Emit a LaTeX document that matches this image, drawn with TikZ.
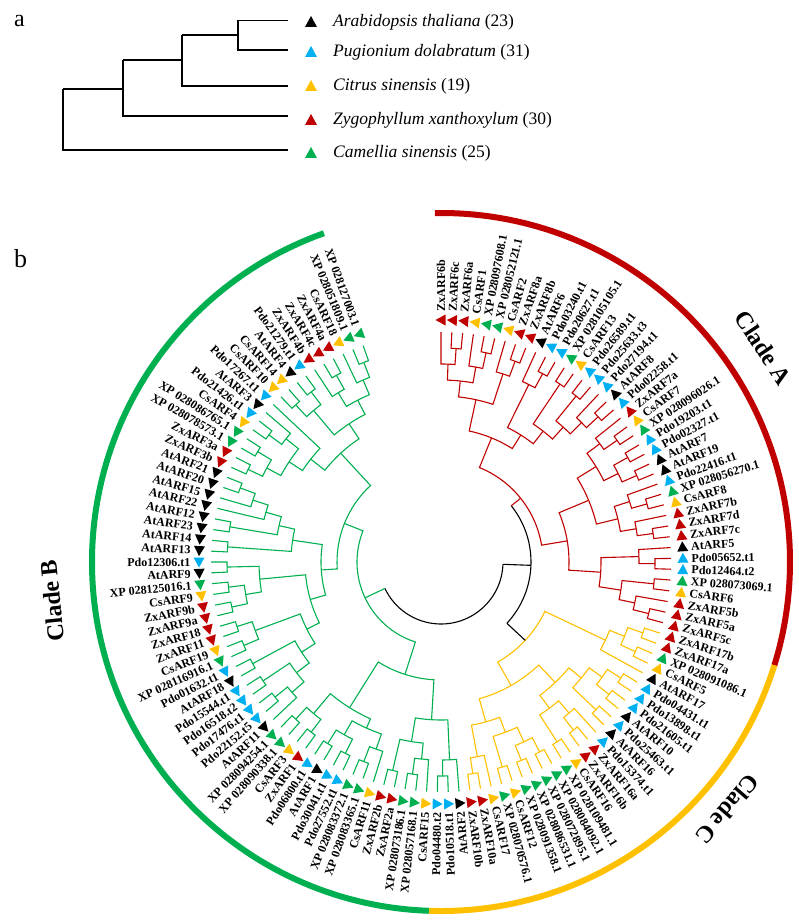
\documentclass[tikz,border=0pt]{standalone}
\usepackage{fontspec}
\setmainfont{Liberation Serif}
\definecolor{cR}{RGB}{192,0,0}
\definecolor{cY}{RGB}{255,192,0}
\definecolor{cB}{RGB}{0,176,240}
\definecolor{cG}{RGB}{0,176,80}
\definecolor{cK}{RGB}{0,0,0}
\def\stp{2.7}
\def\tipr{230}
% internal node: name, radius, child 1, child 2 (children: leaf numbers or node names)
\newcommand\N[4]{%
 \edef\pA{\csname pos@#3\endcsname}\edef\rA{\csname rad@#3\endcsname}%
 \edef\pB{\csname pos@#4\endcsname}\edef\rB{\csname rad@#4\endcsname}%
 \pgfmathsetmacro\aA{90-(\pA-1)*\stp}%
 \pgfmathsetmacro\aB{90-(\pB-1)*\stp}%
 \draw (\aA:\rA) -- (\aA:#2) arc[start angle=\aA, end angle=\aB, radius=#2] -- (\aB:\rB);%
 \pgfmathsetmacro\pM{(\pA+\pB)/2}%
 \expandafter\xdef\csname pos@#1\endcsname{\pM}%
 \expandafter\xdef\csname rad@#1\endcsname{#2}}
% node whose arc is black but whose two stems take the given colours
\newcommand\Nc[6]{%
 \edef\pA{\csname pos@#3\endcsname}\edef\rA{\csname rad@#3\endcsname}%
 \edef\pB{\csname pos@#5\endcsname}\edef\rB{\csname rad@#5\endcsname}%
 \pgfmathsetmacro\aA{90-(\pA-1)*\stp}%
 \pgfmathsetmacro\aB{90-(\pB-1)*\stp}%
 \draw[black] (\aA:#2) arc[start angle=\aA, end angle=\aB, radius=#2];%
 \draw[#4] (\aA:\rA) -- (\aA:#2);%
 \draw[#6] (\aB:\rB) -- (\aB:#2);%
 \pgfmathsetmacro\pM{(\pA+\pB)/2}%
 \expandafter\xdef\csname pos@#1\endcsname{\pM}%
 \expandafter\xdef\csname rad@#1\endcsname{#2}}
\newcommand\leaf[3]{%
 \pgfmathsetmacro\th{90-(#1-1)*\stp}
 \begin{scope}[rotate=\th]
  \fill[#2] (242,5.5) -- (236.5,-4.5) -- (247.5,-4.5) -- cycle;
 \end{scope}
 \ifnum#1<66
  \node[lbl, rotate=\th, anchor=west] (L#1) at (\th:250.5) {#3};
 \else
  \node[lbl, rotate=\th+180, anchor=east] (L#1) at (\th:250.5) {#3};
 \fi}
\tikzset{lbl/.style={inner sep=0pt, font=\fontsize{12}{14}\selectfont\bfseries},
 legtext/.style={anchor=west, inner sep=0pt, font=\fontsize{17.5}{20}\selectfont},
 cladetext/.style={inner sep=0pt, font=\fontsize{24}{26}\selectfont\bfseries},
 tree/.style={line width=1.1pt, line join=miter},
 cladearc/.style={line width=6pt}}
\begin{document}
\begin{tikzpicture}[x=1pt,y=1pt]
\useasboundingbox (0,0) rectangle (798,-920);
\foreach \k in {1,...,127}{%
 \expandafter\xdef\csname pos@\k\endcsname{\k}%
 \expandafter\xdef\csname rad@\k\endcsname{\tipr}}
% panel labels
\node[font=\fontsize{24}{26}\selectfont, anchor=base west, inner sep=0] (la) at (14,-27) {a};
\node[font=\fontsize{26}{28}\selectfont, anchor=base west, inner sep=0] (lb) at (14,-267) {b};
% legend tree
\begin{scope}[line width=1.4pt]
\draw (63,-89) -- (63,-150) -- (288,-150);
\draw (63,-89) -- (123,-89);
\draw (123,-60) -- (123,-116) -- (288,-116);
\draw (123,-60) -- (182,-60);
\draw (182,-35) -- (182,-86) -- (288,-86);
\draw (182,-35) -- (238,-35);
\draw (288,-20.5) -- (238,-20.5) -- (238,-50) -- (288,-50);
\end{scope}
\foreach \yy/\cc/\nm/\nn in {-22/cK/Arabidopsis thaliana/23, -52/cB/Pugionium dolabratum/31, -86/cY/Citrus sinensis/19, -120/cR/Zygophyllum xanthoxylum/30, -153/cG/Camellia sinensis/25}{
 \fill[\cc] (311,\yy+6) -- (305,\yy-5) -- (317,\yy-5) -- cycle;
 \node[legtext] at (333,\yy) {\textit{\nm} (\nn)};
}
% circular tree
\begin{scope}[shift={(441,-562)}]
\draw[cladearc, cR] (91:349) arc[start angle=91, end angle=-17.2, radius=349];
\draw[cladearc, cY] (-17.2:349) arc[start angle=-17.2, end angle=-92, radius=349];
\draw[cladearc, cG] (-92:349) arc[start angle=-92, end angle=-250.4, radius=349];
\node[cladetext, rotate=33.6-90] (ca) at (33.6:387) {Clade A};
\node[cladetext, rotate=185.7-90] (cb) at (185.7:391) {Clade B};
\node[cladetext, rotate=-40.8-90] (cc) at (-40.8:379) {Clade C};
\begin{scope}[tree, cR]
\N{a1}{214}{2}{3}
\N{a2}{198}{1}{a1}
\N{a3}{214}{5}{6}
\N{a4}{198}{4}{a3}
\N{a5}{182}{a2}{a4}
\N{a6}{214}{8}{9}
\N{a7}{198}{7}{a6}
\N{a8}{166}{a5}{a7}
\N{a9}{214}{11}{12}
\N{a10}{198}{10}{a9}
\N{a11}{214}{13}{14}
\N{a12}{214}{15}{16}
\N{a13}{214}{18}{19}
\N{a14}{198}{17}{a13}
\N{a15}{182}{a12}{a14}
\N{a16}{166}{a11}{a15}
\N{a17}{150}{a10}{a16}
\N{a18}{134}{a8}{a17}
\N{b1}{214}{21}{22}
\N{b2}{198}{20}{b1}
\N{b3}{214}{23}{24}
\N{b4}{214}{25}{26}
\N{b5}{198}{b3}{b4}
\N{b6}{182}{b2}{b5}
\N{b7}{214}{28}{29}
\N{b8}{198}{27}{b7}
\N{b9}{214}{31}{32}
\N{b10}{198}{30}{b9}
\N{b11}{182}{b8}{b10}
\N{b12}{160}{b6}{b11}
\N{c1}{214}{34}{35}
\N{c2}{198}{33}{c1}
\N{c3}{214}{36}{37}
\N{c4}{214}{39}{40}
\N{c5}{198}{38}{c4}
\N{c6}{182}{c3}{c5}
\N{c7}{160}{c2}{c6}
\N{A2}{128}{b12}{c7}
\N{A}{102}{a18}{A2}
\end{scope}
\begin{scope}[tree, cY]
\N{d1}{214}{41}{42}
\N{d2}{214}{43}{44}
\N{d3}{198}{d1}{d2}
\N{d4}{182}{d3}{45}
\N{e1}{214}{46}{47}
\N{e2}{214}{48}{49}
\N{e3}{198}{e1}{e2}
\N{e4}{214}{50}{51}
\N{e5}{182}{e3}{e4}
\N{e6}{214}{53}{54}
\N{e7}{198}{52}{e6}
\N{e8}{214}{55}{56}
\N{e9}{182}{e7}{e8}
\N{e10}{166}{e5}{e9}
\N{f1}{214}{57}{58}
\N{f2}{214}{59}{60}
\N{f3}{198}{f1}{f2}
\N{f4}{214}{61}{62}
\N{f5}{182}{f3}{f4}
\N{f6}{214}{64}{65}
\N{f7}{198}{63}{f6}
\N{f8}{166}{f5}{f7}
\N{C1}{142}{e10}{f8}
\N{C}{115}{d4}{C1}
\end{scope}
\begin{scope}[tree, cG]
\N{g1}{214}{67}{68}
\N{g2}{198}{66}{g1}
\N{g3}{214}{70}{71}
\N{g4}{198}{69}{g3}
\N{g5}{214}{72}{73}
\N{g6}{182}{g4}{g5}
\N{g7}{158}{g2}{g6}
\N{h1}{214}{75}{76}
\N{h2}{198}{74}{h1}
\N{h3}{214}{77}{78}
\N{h4}{214}{79}{80}
\N{h5}{198}{h3}{h4}
\N{h6}{182}{h2}{h5}
\N{h7}{214}{81}{82}
\N{h8}{214}{83}{84}
\N{h9}{198}{h7}{h8}
\N{h10}{172}{h6}{h9}
\N{B1}{118}{g7}{h10}
\N{i1}{214}{86}{87}
\N{i2}{198}{85}{i1}
\N{i3}{214}{88}{89}
\N{i4}{182}{i2}{i3}
\N{i5}{214}{90}{91}
\N{i6}{166}{i4}{i5}
\N{i7}{214}{92}{93}
\N{i8}{214}{94}{95}
\N{i9}{198}{i7}{i8}
\N{i10}{150}{i6}{i9}
\N{j1}{214}{96}{97}
\N{j2}{214}{98}{99}
\N{j3}{198}{j1}{j2}
\N{j4}{214}{100}{101}
\N{j5}{182}{j3}{j4}
\N{i11}{136}{i10}{j5}
\N{k1}{214}{108}{109}
\N{k2}{198}{107}{k1}
\N{k3}{182}{106}{k2}
\N{k4}{214}{104}{105}
\N{k5}{166}{k4}{k3}
\N{k6}{214}{102}{103}
\N{k7}{150}{k6}{k5}
\N{B2}{120}{i11}{k7}
\N{l1}{214}{110}{111}
\N{l2}{214}{112}{113}
\N{l3}{198}{l1}{l2}
\N{l4}{214}{114}{115}
\N{l5}{198}{l4}{116}
\N{l6}{182}{l3}{l5}
\N{l7}{166}{l6}{117}
\N{m1}{214}{118}{119}
\N{m2}{214}{120}{121}
\N{m3}{198}{m1}{m2}
\N{m4}{214}{123}{124}
\N{m5}{198}{122}{m4}
\N{m6}{214}{126}{127}
\N{m7}{198}{125}{m6}
\N{m8}{182}{m5}{m7}
\N{m9}{166}{m3}{m8}
\N{B3}{148}{l7}{m9}
\N{B4}{104}{B2}{B3}
\N{B}{84}{B1}{B4}
\end{scope}
\begin{scope}[tree]
\Nc{AC}{90}{A}{cR}{C}{black}
\Nc{R}{62}{AC}{black}{B}{cG}
\end{scope}
\leaf{1}{cR}{ZxARF6b}
\leaf{2}{cR}{ZxARF6c}
\leaf{3}{cR}{ZxARF6a}
\leaf{4}{cY}{CsARF1}
\leaf{5}{cG}{XP 028097608.1}
\leaf{6}{cG}{XP 028052121.1}
\leaf{7}{cY}{CsARF2}
\leaf{8}{cR}{ZxARF8a}
\leaf{9}{cR}{ZxARF8b}
\leaf{10}{cK}{AtARF6}
\leaf{11}{cB}{Pdo03240.t1}
\leaf{12}{cB}{Pdo20627.t1}
\leaf{13}{cG}{XP 028105105.1}
\leaf{14}{cY}{CsARF13}
\leaf{15}{cB}{Pdo26589.t1}
\leaf{16}{cB}{Pdo25633.t3}
\leaf{17}{cB}{Pdo27194.t1}
\leaf{18}{cK}{AtARF8}
\leaf{19}{cB}{Pdo02258.t1}
\leaf{20}{cR}{ZxARF7a}
\leaf{21}{cY}{CsARF7}
\leaf{22}{cG}{XP 028096026.1}
\leaf{23}{cB}{Pdo19203.t1}
\leaf{24}{cB}{Pdo02327.t1}
\leaf{25}{cK}{AtARF7}
\leaf{26}{cK}{AtARF19}
\leaf{27}{cB}{Pdo22416.t1}
\leaf{28}{cG}{XP 028056270.1}
\leaf{29}{cY}{CsARF8}
\leaf{30}{cR}{ZxARF7b}
\leaf{31}{cR}{ZxARF7d}
\leaf{32}{cR}{ZxARF7c}
\leaf{33}{cK}{AtARF5}
\leaf{34}{cB}{Pdo05652.t1}
\leaf{35}{cB}{Pdo12464.t2}
\leaf{36}{cG}{XP 028073069.1}
\leaf{37}{cY}{CsARF6}
\leaf{38}{cR}{ZxARF5b}
\leaf{39}{cR}{ZxARF5a}
\leaf{40}{cR}{ZxARF5c}
\leaf{41}{cR}{ZxARF17b}
\leaf{42}{cR}{ZxARF17a}
\leaf{43}{cG}{XP 028091086.1}
\leaf{44}{cY}{CsARF5}
\leaf{45}{cK}{AtARF17}
\leaf{46}{cB}{Pdo04431.t1}
\leaf{47}{cB}{Pdo13898.t1}
\leaf{48}{cB}{Pdo21605.t1}
\leaf{49}{cK}{AtARF10}
\leaf{50}{cB}{Pdo25463.t1}
\leaf{51}{cK}{AtARF16}
\leaf{52}{cB}{Pdo15374.t1}
\leaf{53}{cR}{ZxARF16a}
\leaf{54}{cR}{ZxARF16b}
\leaf{55}{cY}{CsARF16}
\leaf{56}{cG}{XP 028109481.1}
\leaf{57}{cG}{XP 028084092.1}
\leaf{58}{cG}{XP 028072895.1}
\leaf{59}{cG}{XP 028086531.1}
\leaf{60}{cG}{XP 028091358.1}
\leaf{61}{cY}{CsARF12}
\leaf{62}{cG}{XP 028070576.1}
\leaf{63}{cY}{CsARF17}
\leaf{64}{cR}{ZxARF10a}
\leaf{65}{cR}{ZxARF10b}
\leaf{66}{cK}{AtARF2}
\leaf{67}{cB}{Pdo10518.t1}
\leaf{68}{cB}{Pdo04480.t2}
\leaf{69}{cY}{CsARF15}
\leaf{70}{cG}{XP 028057168.1}
\leaf{71}{cG}{XP 028073186.1}
\leaf{72}{cR}{ZxARF2a}
\leaf{73}{cR}{ZxARF2b}
\leaf{74}{cY}{CsARF11}
\leaf{75}{cG}{XP 028083365.1}
\leaf{76}{cG}{XP 028083372.1}
\leaf{77}{cB}{Pdo27552.t1}
\leaf{78}{cB}{Pdo30041.t1}
\leaf{79}{cK}{AtARF1}
\leaf{80}{cB}{Pdo06800.t1}
\leaf{81}{cR}{ZxARF1}
\leaf{82}{cY}{CsARF3}
\leaf{83}{cG}{XP 028090338.1}
\leaf{84}{cG}{XP 028094254.1}
\leaf{85}{cK}{AtARF11}
\leaf{86}{cB}{Pdo22152.t5}
\leaf{87}{cB}{Pdo17476.t1}
\leaf{88}{cB}{Pdo16518.t2}
\leaf{89}{cB}{Pdo15544.t1}
\leaf{90}{cK}{AtARF18}
\leaf{91}{cB}{Pdo01632.t1}
\leaf{92}{cG}{XP 028116916.1}
\leaf{93}{cY}{CsARF19}
\leaf{94}{cR}{ZxARF11}
\leaf{95}{cR}{ZxARF18}
\leaf{96}{cR}{ZxARF9a}
\leaf{97}{cR}{ZxARF9b}
\leaf{98}{cY}{CsARF9}
\leaf{99}{cG}{XP 028125016.1}
\leaf{100}{cK}{AtARF9}
\leaf{101}{cB}{Pdo12306.t1}
\leaf{102}{cK}{AtARF13}
\leaf{103}{cK}{AtARF14}
\leaf{104}{cK}{AtARF23}
\leaf{105}{cK}{AtARF12}
\leaf{106}{cK}{AtARF22}
\leaf{107}{cK}{AtARF15}
\leaf{108}{cK}{AtARF20}
\leaf{109}{cK}{AtARF21}
\leaf{110}{cR}{ZxARF3b}
\leaf{111}{cR}{ZxARF3a}
\leaf{112}{cG}{XP 028078573.1}
\leaf{113}{cG}{XP 028086765.1}
\leaf{114}{cY}{CsARF4}
\leaf{115}{cB}{Pdo21426.t1}
\leaf{116}{cK}{AtARF3}
\leaf{117}{cB}{Pdo17267.t1}
\leaf{118}{cY}{CsARF10}
\leaf{119}{cY}{CsARF14}
\leaf{120}{cK}{AtARF4}
\leaf{121}{cB}{Pdo21279.t1}
\leaf{122}{cR}{ZxARF4b}
\leaf{123}{cR}{ZxARF4c}
\leaf{124}{cR}{ZxARF4a}
\leaf{125}{cY}{CsARF18}
\leaf{126}{cG}{XP 028051809.1}
\leaf{127}{cG}{XP 028127003.1}
\end{scope}
\end{tikzpicture}
\end{document}
